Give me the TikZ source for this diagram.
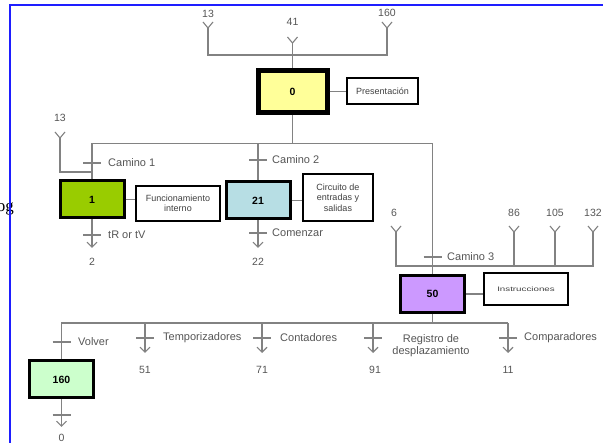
\documentclass[tikz,border=0pt]{standalone}
\usepackage{fontspec}
\setmainfont{Liberation Sans}
\newfontfamily\ogfont{Liberation Serif}
\usetikzlibrary{arrows.meta}
\definecolor{wiregray}{RGB}{130,130,130}
\definecolor{txtgray}{RGB}{85,85,85}
\definecolor{frameblue}{RGB}{30,30,255}
\definecolor{fillzero}{RGB}{255,255,153}
\definecolor{fillone}{RGB}{153,204,0}
\definecolor{filltwo}{RGB}{183,222,228}
\definecolor{fillfifty}{RGB}{204,153,255}
\definecolor{fillback}{RGB}{204,255,204}
\tikzset{
  wire/.style={draw=wiregray,line width=1.1pt},
  downarrow/.style={wire,-{Straight Barb[length=5pt,width=10pt]}},
  stepbox/.style={draw=black,line width=3pt,minimum width=64pt,minimum height=37pt,
    inner sep=0pt,font=\bfseries\fontsize{10.5}{12}\selectfont},
  notebox/.style={draw=black,line width=2pt,fill=white,inner sep=0pt,align=center,
    text=black!75,font=\fontsize{9}{10.5}\selectfont},
  num/.style={text=txtgray,font=\fontsize{10.5}{12}\selectfont,inner sep=1pt},
  lbl/.style={text=txtgray,font=\fontsize{11}{12}\selectfont,inner sep=0pt,anchor=west},
  inY/.pic={\draw[wire] (-5,-6) -- (0,0) -- (5,-6);},
  tbar/.pic={\draw[wire] (-9,0) -- (9,0);}
}
\begin{document}
\begin{tikzpicture}[x=1pt,y=-1pt]
\useasboundingbox (0,0) rectangle (603,443);
\clip (0,0) rectangle (603,443);

% steps
\node[stepbox,fill=fillzero,line width=5pt,minimum width=69pt,minimum height=42pt] (s0) at (292.5,91.5) {0};
\node[stepbox,fill=fillone] (s1) at (92,199.5) {1};
\node[stepbox,fill=filltwo] (s21) at (258,200.5) {21};
\node[stepbox,fill=fillfifty] (s50) at (432.5,294) {50};
\node[stepbox,fill=fillback] (s160) at (61.5,379.5) {160};

% comment boxes
\node[notebox,minimum width=71pt,minimum height=26pt] (c0) at (382.5,91) {Presentación};
\node[notebox,minimum width=84pt,minimum height=35pt] (c1) at (178,203.5) {Funcionamiento\\interno};
\node[notebox,minimum width=70pt,minimum height=47pt] (c21) at (338,197.5) {Circuito de\\entradas y\\salidas};
\node[notebox,minimum width=84pt,minimum height=32pt,font=\fontsize{6.5}{8}\selectfont] (c50) at (526,289) {\scalebox{1.5}[1]{Instrucciones}};
\draw[wire] (s0.east) -- (c0.west |- s0.east);
\draw[wire] (s1.east) -- (c1.west |- s1.east);
\draw[wire] (s21.east) -- (c21.west |- s21.east);
\draw[wire] (s50.east) -- (c50.west |- s50.east);

% inputs to step 0
\node[num] (n13a) at (208,14) {13};
\node[num] (n41) at (292.5,22) {41};
\node[num] (n160a) at (387,13) {160};
\coordinate (y13a) at (208,28);
\coordinate (y41) at (292.5,43);
\coordinate (y160) at (387,28);
\coordinate (j0) at (292.5,55);
\draw[wire] (y13a) |- (j0) -| (y160);
\draw[wire] (y41) -- (s0.north);
\pic at (y13a) {inY};
\pic at (y41) {inY};
\pic at (y160) {inY};

% divergence after step 0
\coordinate (j1) at (292.5,143.5);
\draw[wire] (s0.south) -- (j1);
\draw[wire] (s1.north) |- (j1) -| (s50.north);
\draw[wire] (s21.north) -- (s21.north |- j1);
\pic at (92,163) {tbar};
\node[lbl] (tc1) at (108,163) {Camino 1};
\pic at (258,160) {tbar};
\node[lbl] (tc2) at (272,160) {Camino 2};
\pic at (432.5,257) {tbar};
\node[lbl] (tc3) at (447,257) {Camino 3};

% return into step 1
\node[num] (n13b) at (60,118) {13};
\coordinate (y13b) at (60,138);
\coordinate (m1) at (92,172);
\draw[wire] (y13b) |- (m1);
\pic at (y13b) {inY};

% exits of steps 1 and 21
\coordinate (a2) at (92,248);
\draw[downarrow] (s1.south) -- (a2);
\pic at (92,235) {tbar};
\node[lbl] (t2) at (108,235) {tR or tV};
\node[num] (n2) at (92,262) {2};
\coordinate (a22) at (258,248);
\draw[downarrow] (s21.south) -- (a22);
\pic at (258,233) {tbar};
\node[lbl] (t22) at (272,233) {Comenzar};
\node[num] (n22) at (258,262) {22};

% inputs to step 50
\node[num] (n6) at (394,213) {6};
\node[num] (n86) at (514,213) {86};
\node[num] (n105) at (555,213) {105};
\node[num] (n132) at (593,213) {132};
\coordinate (y6) at (396,232);
\coordinate (y86) at (514,232);
\coordinate (y105) at (555,232);
\coordinate (y132) at (593,232);
\coordinate (j3) at (432.5,266);
\draw[wire] (y6) |- (j3) -| (y132);
\draw[wire] (y86) -- (y86 |- j3);
\draw[wire] (y105) -- (y105 |- j3);
\pic at (y6) {inY};
\pic at (y86) {inY};
\pic at (y105) {inY};
\pic at (y132) {inY};

% divergence after step 50
\coordinate (j4) at (432.5,323);
\coordinate (b51) at (145,323);
\coordinate (b71) at (262,323);
\coordinate (b91) at (373,323);
\coordinate (b11) at (508,323);
\draw[wire] (s50.south) -- (j4);
\draw[wire] (s160.north) |- (b11);
\pic at (61.5,342) {tbar};
\node[lbl] (tv) at (78,342) {Volver};
\draw[downarrow] (b51) -- (145,353);
\pic at (145,338) {tbar};
\node[lbl] (t51) at (163,338) {Temporizadores};
\node[num] (n51) at (145,370) {51};
\draw[downarrow] (b71) -- (262,353);
\pic at (262,338) {tbar};
\node[lbl] (t71) at (280,338) {Contadores};
\node[num] (n71) at (262,370) {71};
\draw[downarrow] (b91) -- (373,353);
\pic at (373,338) {tbar};
\node[lbl,anchor=center,align=center] (t91) at (431,346) {Registro de\\desplazamiento};
\node[num] (n91) at (375,370) {91};
\draw[downarrow] (b11) -- (508,353);
\pic at (508,338) {tbar};
\node[lbl] (t11) at (524,338) {Comparadores};
\node[num] (n11) at (508,370) {11};

% exit of step 160
\draw[downarrow] (s160.south) -- (61.5,427);
\pic at (61.5,415) {tbar};
\node[num] (n0) at (61.5,438) {0};

% page frame with the tail of a word running in from the left
\node[anchor=base east,inner sep=0pt,font=\ogfont\fontsize{17}{17}\selectfont] (og) at (14,212) {og};
\draw[frameblue,line width=2pt] (9.5,443) -- (9.5,5) -- (603,5);
\end{tikzpicture}
\end{document}
